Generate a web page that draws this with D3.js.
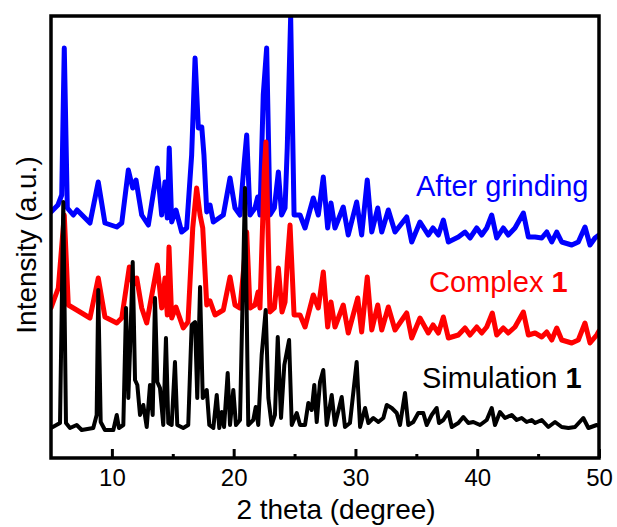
<!DOCTYPE html>
<html>
<head>
<meta charset="utf-8">
<style>
  * { margin: 0; padding: 0; }
  html, body { width: 617px; height: 527px; background: #fff; overflow: hidden; }
  svg { display: block; }
  text { font-family: "Liberation Sans", Arial, sans-serif; }
</style>
</head>
<body>
<script src="https://cdn.jsdelivr.net/npm/d3@7"></script>
<script>
// [2 theta, intensity] (traces are already stacked)
const afterGrinding = [
  [5.0,246],[5.57,253],[5.88,263],[6.09,410],[6.34,250],[6.83,243],[7.14,248],[8.20,235],[8.88,276],
  [9.43,235],[10.40,231],[10.81,235],[11.35,288],[11.71,270],[11.98,278],[12.45,243],[12.99,233],
  [13.73,290],[14.09,243],[14.36,276],[14.55,240],[14.71,310],[14.91,236],[15.26,248],[15.73,226],
  [16.14,230],[16.55,303],[16.83,400],[17.10,330],[17.38,331],[17.56,303],[17.79,246],[18.06,253],
  [18.33,236],[19.15,243],[19.70,280],[20.11,250],[20.52,243],[20.85,293],[21.07,323],[21.34,243],
  [21.75,250],[21.97,261],[22.16,243],[22.43,363],[22.71,410],[22.98,243],[23.34,250],[23.67,286],
  [23.94,243],[24.22,250],[24.40,310],[24.68,441],[24.96,243],[25.45,243],[25.86,230],[26.54,260],
  [26.95,243],[27.36,281],[27.72,230],[27.99,255],[28.32,230],[29.00,251],[29.41,223],[30.10,256],
  [30.51,223],[30.97,278],[31.34,226],[31.83,250],[32.16,226],[32.70,248],[33.25,226],[34.21,241],
  [34.62,216],[35.30,236],[35.98,223],[36.37,230],[36.81,223],[37.22,238],[37.63,216],[38.45,221],
  [39.00,226],[39.41,220],[39.96,230],[40.37,223],[40.78,230],[41.19,243],[41.60,220],[42.14,230],
  [42.55,223],[43.10,230],[43.79,245],[44.20,221],[44.75,221],[45.30,220],[45.71,226],[46.12,216],
  [46.53,226],[46.94,216],[47.76,213],[48.30,216],[48.85,231],[49.26,213],[49.67,220],[50.0,223]
];
const complex1 = [
  [5.0,150],[5.60,170],[6.09,243],[6.42,153],[7.11,148],[8.20,140],[8.88,180],[9.43,141],[10.40,135],
  [10.81,140],[11.43,191],[11.73,173],[12.04,180],[12.45,150],[12.86,135],[13.73,193],[14.09,150],
  [14.36,180],[14.55,143],[14.69,211],[14.91,140],[15.26,151],[15.86,130],[16.25,136],[16.64,230],
  [16.96,270],[17.24,243],[17.46,230],[17.79,153],[18.06,157],[18.47,143],[19.15,148],[19.70,181],
  [20.11,153],[20.52,150],[20.85,193],[21.07,226],[21.34,150],[21.75,153],[22.00,166],[22.16,150],
  [22.51,286],[22.65,316],[22.98,146],[23.34,150],[23.67,190],[23.97,146],[24.22,156],[24.40,196],
  [24.63,233],[24.96,143],[25.45,143],[25.86,131],[26.54,163],[26.95,150],[27.36,186],[27.72,131],
  [27.99,156],[28.32,131],[29.00,153],[29.41,125],[30.19,160],[30.51,126],[30.97,181],[31.34,128],
  [31.83,153],[32.16,128],[32.70,151],[33.25,128],[34.21,145],[34.62,120],[35.30,140],[35.98,125],
  [36.37,133],[36.81,125],[37.22,141],[37.63,120],[38.45,123],[39.00,130],[39.41,123],[39.96,131],
  [40.37,125],[40.78,131],[41.24,145],[41.60,123],[42.14,130],[42.55,125],[43.10,131],[43.79,146],
  [44.20,123],[44.75,125],[45.30,121],[45.71,126],[46.12,118],[46.53,130],[46.94,118],[47.76,115],
  [48.30,118],[48.85,135],[49.26,115],[49.81,123],[50.0,127]
];
const simulation1 = [
  [5.0,30],[5.74,35],[6.01,256],[6.23,35],[6.56,30],[7.11,33],[7.52,28],[8.47,30],[8.75,43],[8.88,168],
  [9.08,36],[9.43,28],[10.12,28],[10.40,43],[10.58,30],[10.94,33],[11.16,150],[11.35,60],[11.49,108],
  [11.71,196],[11.90,78],[12.09,73],[12.31,43],[12.58,53],[12.86,31],[13.13,73],[13.35,43],[13.54,160],
  [13.73,76],[13.95,70],[14.22,33],[14.44,120],[14.63,35],[14.91,33],[15.18,96],[15.37,33],[15.86,30],
  [16.27,33],[16.55,133],[16.83,136],[17.01,60],[17.24,171],[17.46,60],[17.79,68],[18.00,33],[18.33,30],
  [18.61,63],[18.82,30],[19.02,46],[19.21,31],[19.51,85],[19.70,33],[19.97,68],[20.19,33],[20.52,38],
  [20.93,270],[21.20,33],[21.61,38],[21.81,51],[22.02,33],[22.30,103],[22.63,148],[22.85,60],[23.12,33],
  [23.39,43],[23.62,121],[23.89,40],[24.16,93],[24.55,118],[24.77,33],[25.18,45],[25.45,33],[25.86,33],
  [26.13,55],[26.41,48],[26.62,73],[26.82,36],[27.09,76],[27.36,88],[27.64,33],[28.05,63],[28.32,33],
  [28.87,61],[29.14,31],[29.55,35],[30.10,96],[30.38,31],[30.79,50],[31.06,35],[31.47,40],[31.88,36],
  [32.29,40],[32.57,53],[32.98,50],[33.39,45],[33.66,33],[34.07,65],[34.34,33],[34.75,36],[35.16,45],
  [35.57,45],[35.85,33],[36.26,43],[36.67,50],[36.86,35],[37.22,38],[37.63,46],[37.91,31],[38.45,35],
  [38.86,41],[39.27,35],[39.68,36],[40.23,33],[40.78,38],[41.19,50],[41.46,33],[41.87,46],[42.28,40],
  [42.83,43],[43.24,38],[43.65,40],[44.06,36],[44.47,38],[44.75,35],[45.30,38],[45.84,31],[46.39,36],
  [46.94,31],[47.49,30],[48.03,31],[48.71,40],[49.13,30],[49.81,33],[50.0,32]
];
const xMajorTicks = [10, 20, 30, 40, 50];
const xMinorTicks = [15, 25, 35, 45];
const xTitle = "2 theta (degree)";
const yTitle = "Intensity (a.u.)";

var width = 617, height = 527;
var margin = { top: 16, right: 18, bottom: 69, left: 51 };

const svg = d3.select("body").append("svg")
  .attr("width", width).attr("height", height);

var x = d3.scaleLinear().domain([5, 50]).range([margin.left, width - margin.right]);
var y = d3.scaleLinear().domain([0, 442]).range([height - margin.bottom, margin.top]);

svg.append("clipPath").attr("id", "plot")
  .append("rect")
  .attr("x", margin.left).attr("y", margin.top)
  .attr("width", width - margin.left - margin.right)
  .attr("height", height - margin.top - margin.bottom);

var line = d3.line().x(d => x(d[0])).y(d => y(d[1]));

// blue under red under black
const series = [
  { data: afterGrinding, color: "#0000ff", w: 5 },
  { data: complex1, color: "#ff0000", w: 5 },
  { data: simulation1, color: "#000000", w: 4 }
];
svg.append("g").attr("clip-path", "url(#plot)")
  .selectAll("path")
  .data(series)
  .join("path")
  .attr("fill", "none")
  .attr("stroke", d => d.color)
  .attr("stroke-width", d => d.w)
  .attr("stroke-linejoin", "round")
  .attr("stroke-linecap", "round")
  .attr("d", d => line(d.data));

// x axis, ticks pointing inward
const xAxis = svg.append("g")
  .attr("transform", `translate(0,${height - margin.bottom})`)
  .call(d3.axisBottom(x).tickValues(xMajorTicks).tickSize(-9).tickPadding(11).tickFormat(d3.format("d")));
xAxis.select(".domain").remove();
xAxis.selectAll(".tick line").attr("stroke-width", 3);
xAxis.selectAll("text").attr("font-size", 24).attr("fill", "#000")
  .style("font-family", "'Liberation Sans', Arial, sans-serif");

svg.append("g")
  .attr("transform", `translate(0,${height - margin.bottom})`)
  .call(d3.axisBottom(x).tickValues(xMinorTicks).tickSize(-4).tickFormat(""))
  .call(g => g.select(".domain").remove())
  .selectAll(".tick line").attr("stroke-width", 3);

// frame
svg.append("rect")
  .attr("x", margin.left).attr("y", margin.top)
  .attr("width", width - margin.left - margin.right)
  .attr("height", height - margin.top - margin.bottom)
  .attr("fill", "none").attr("stroke", "#000").attr("stroke-width", 3.5);

svg.append("text")
  .attr("x", 336).attr("y", 519)
  .attr("text-anchor", "middle").attr("font-size", 28)
  .text(xTitle);

svg.append("text")
  .attr("transform", "translate(36,245) rotate(-90)")
  .attr("text-anchor", "middle").attr("font-size", 28)
  .text(yTitle);

// trace labels
function label(px, py, color, main, bold) {
  const t = svg.append("text").attr("x", px).attr("y", py)
    .attr("font-size", 29).attr("fill", color);
  t.append("tspan").text(main);
  if (bold) t.append("tspan").attr("font-weight", "bold").text(bold);
}
label(416, 196, "#0000ff", "After grinding");
label(429, 292, "#ff0000", "Complex ", "1");
label(422, 388, "#000000", "Simulation ", "1");
</script>
</body>
</html>
